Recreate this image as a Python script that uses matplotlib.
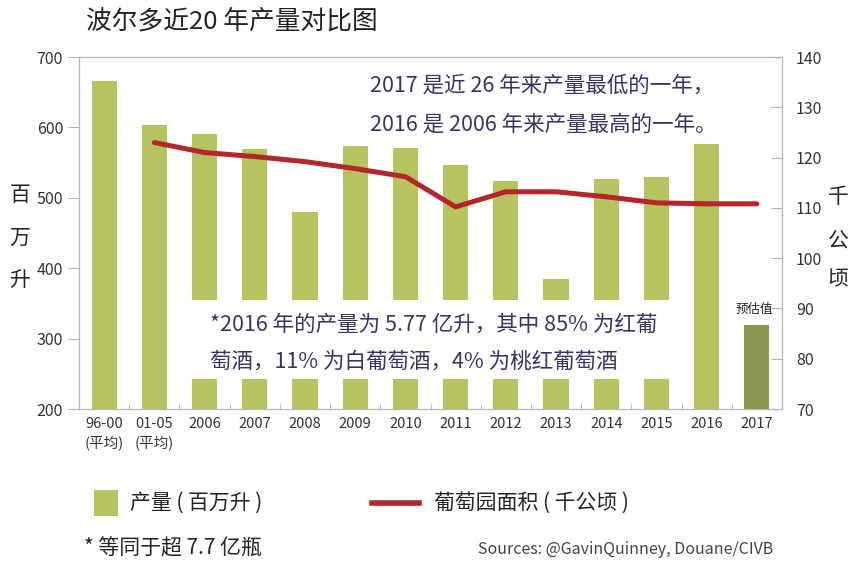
import matplotlib.pyplot as plt
from matplotlib.patches import Rectangle

plt.rcParams['font.family'] = ['Noto Sans CJK SC', 'DejaVu Sans']

# data
years = ["96-00\n(平均)", "01-05\n(平均)", "2006", "2007", "2008", "2009", "2010",
         "2011", "2012", "2013", "2014", "2015", "2016", "2017"]
output = [666, 603, 590, 570, 480, 574, 571, 547, 524, 384, 527, 530, 577, 320]
area_years = years[1:]
area = [123.0, 121.0, 120.2, 119.2, 117.8, 116.2, 110.2, 113.2, 113.2, 112.2, 111.0, 110.8, 110.8]

green = "#b6c35e"
dark_green = "#8d9751"
red = "#b5262b"
navy = "#34346a"
grey = "#b5b5b5"
W, H = 860, 573


def px(x, y):
    # pixel position -> figure fraction
    return x / W, 1 - y / H


fig = plt.figure(figsize=(8.6, 5.73), dpi=100)
ax = fig.add_axes([0.0919, 0.2862, 0.8174, 0.6143])
ax2 = ax.twinx()

x = list(range(len(years)))
colors = [green] * (len(years) - 1) + [dark_green]
ax.bar(x, [v - 200 for v in output], bottom=200, width=0.5, color=colors, zorder=2)
ax.set_ylim(200, 700)
ax.set_xlim(-0.5, len(years) - 0.5)
ax.set_xticks(x)
ax.set_xticklabels(years, fontsize=10.5, color="#333333", linespacing=1.4)
ax.set_yticks(range(200, 701, 100))
ax.tick_params(axis="y", labelsize=11.5, colors="#333333", length=8, color=grey)
ax.tick_params(axis="x", length=0, pad=6)
ax.set_xticks([i + 0.5 for i in x[:-1]], minor=True)
ax.tick_params(axis="x", which="minor", direction="in", length=4, color=grey)
for s in ax.spines.values():
    s.set_color(grey)

ax.annotate("预估值", (x[-1], output[-1]), xytext=(-2, 6), textcoords="offset points",
            ha="center", va="bottom", fontsize=9, color="#222222")

ax2.plot(x[1:], area, color=red, lw=3.6, solid_capstyle="round", zorder=3)
ax2.set_ylim(70, 140)
ax2.set_yticks(range(70, 141, 10))
ax2.tick_params(axis="y", labelsize=11.5, colors="#333333", direction="in", length=8, color=grey, pad=10)
for s in ax2.spines.values():
    s.set_color(grey)

# white box holding the lower note
fig.patches.append(Rectangle(px(180, 379), 505 / W, 79 / H, transform=fig.transFigure,
                             facecolor="white", edgecolor="none", zorder=2))

fig.text(*px(86, 22), "波尔多近20 年产量对比图", fontsize=18.5, color="#222222", va="center")
fig.text(*px(370, 86), "2017 是近 26 年来产量最低的一年，", fontsize=15.5, color=navy, va="center")
fig.text(*px(370, 125), "2016 是 2006 年来产量最高的一年。", fontsize=15.5, color=navy, va="center")
fig.text(*px(210, 325), "*2016 年的产量为 5.77 亿升，其中 85% 为红葡", fontsize=15.5, color=navy, va="center", zorder=3)
fig.text(*px(210, 362), "萄酒，11% 为白葡萄酒，4% 为桃红葡萄酒", fontsize=15.5, color=navy, va="center", zorder=3)

for ch, yy in zip("百万升", [195, 238, 280]):
    fig.text(*px(20, yy), ch, fontsize=15, color="#222222", va="center", ha="center")
for ch, yy in zip("千公顷", [197, 240, 279]):
    fig.text(*px(838, yy), ch, fontsize=15, color="#222222", va="center", ha="center")

# legend drawn by hand
fig.patches.append(Rectangle(px(94, 516), 24 / W, 26 / H, transform=fig.transFigure,
                             facecolor=green, edgecolor="none"))
fig.text(*px(130, 503), "产量 ( 百万升 )", fontsize=15, color="#222222", va="center")
lx0, ly = px(372, 503)
lx1, _ = px(419, 503)
fig.lines.append(plt.Line2D([lx0, lx1], [ly, ly], transform=fig.transFigure, color=red, lw=4))
fig.text(*px(434, 503), "葡萄园面积 ( 千公顷 )", fontsize=15, color="#222222", va="center")
fig.text(*px(84, 548), "* 等同于超 7.7 亿瓶", fontsize=15, color="#222222", va="center")
fig.text(*px(478, 550), "Sources: @GavinQuinney, Douane/CIVB", fontsize=11.5, color="#444444", va="center")

fig.savefig("out.png", dpi=100, facecolor="white")
